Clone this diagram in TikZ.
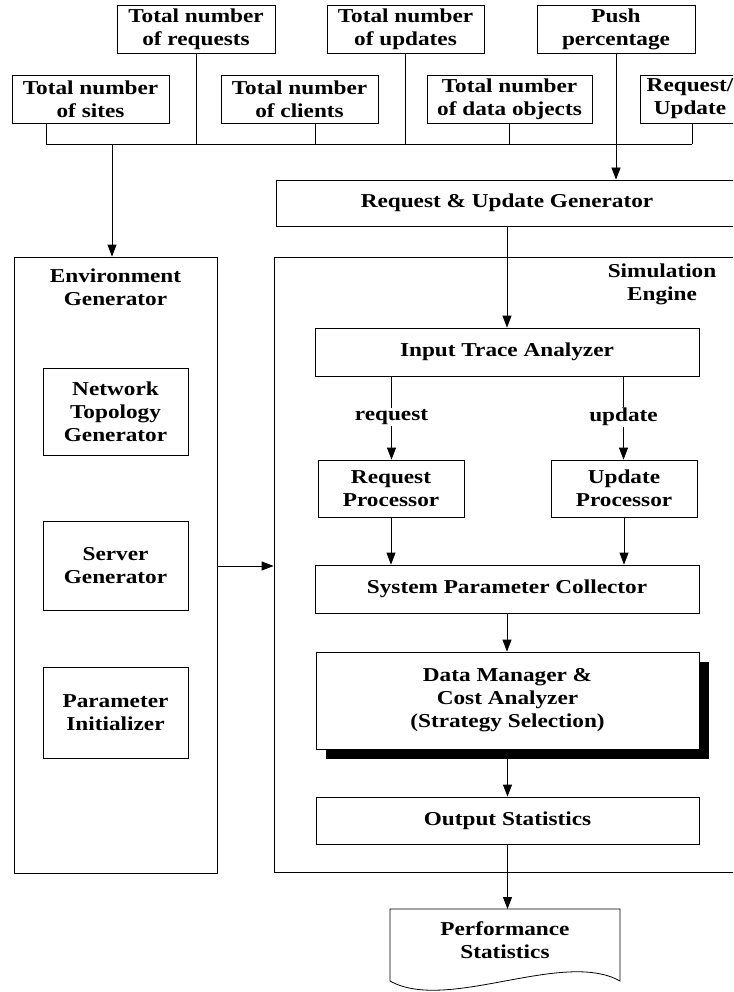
\documentclass[tikz,border=0pt]{standalone}
\usepackage{fontspec}
\setmainfont{Liberation Serif}[FakeStretch=1.18]
\usetikzlibrary{arrows.meta,shadows}
\begin{document}
\begin{tikzpicture}[x=1pt,y=-1pt,
  every node/.style={font=\fontsize{19.7}{23}\selectfont\bfseries, align=center, inner sep=0pt},
  ln/.style={line width=0.8pt, draw=black},
  box/.style={ln, draw, minimum height=48pt},
  container/.style={ln, draw},
  arr/.style={ln, -{Triangle[length=12pt,width=9pt]}},
  lbl/.style={inner sep=1pt}]
\clip (0,0) rectangle (733,992);
% ---------- input parameter boxes ----------
\node[box, minimum width=158pt] (requests) at (196,29) {Total number\\of requests};
\node[box, minimum width=157pt] (updates) at (405.5,29) {Total number\\of updates};
\node[box, minimum width=158pt] (push) at (616,29) {Push\\percentage};
\node[box, minimum width=157pt] (sites) at (90.5,99) {Total number\\of sites};
\node[box, minimum width=157pt] (clients) at (299.5,99) {Total number\\of clients};
\node[box, minimum width=165pt] (dataobj) at (509.5,99) {Total number\\of data objects};
\node[box, minimum width=100pt] (requp) at (690,99) {Request/\\Update};
% ---------- generators ----------
\node[box, minimum width=462pt, minimum height=46pt] (rug) at (507,203) {Request \& Update Generator};
\node[container, minimum width=203pt, minimum height=616pt] (env) at (115.5,565) {};
\node (envlbl) at (115.5,287.5) {Environment\\Generator};
\node[box, minimum width=145pt, minimum height=87pt] (ntg) at (115.5,411.5) {Network\\Topology\\Generator};
\node[box, minimum width=145pt, minimum height=89pt] (srv) at (115.5,565.5) {Server\\Generator};
\node[box, minimum width=145pt, minimum height=91pt] (pin) at (115.5,712.5) {Parameter\\Initializer};
% ---------- simulation engine ----------
\node[container, minimum width=471pt, minimum height=615pt] (sim) at (509.5,564.5) {};
\node (simlbl) at (662,284) {Simulation\\Engine};
\node[box, minimum width=384pt] (ita) at (507,352) {Input Trace Analyzer};
\node[lbl] (lreq) at (391.5,417) {request};
\node[lbl] (lupd) at (623.5,417) {update};
\node[box, minimum width=146pt, minimum height=57pt] (rp) at (391,488.5) {Request\\Processor};
\node[box, minimum width=146pt, minimum height=57pt] (up) at (624,488.5) {Update\\Processor};
\node[box, minimum width=384pt] (spc) at (507,589) {System Parameter Collector};
\node[box, fill=white, minimum width=383pt, minimum height=97pt,
      drop shadow={shadow xshift=10pt, shadow yshift=-10pt, fill=black, opacity=1}]
      (dm) at (507.5,700.5) {Data Manager \&\\Cost Analyzer\\(Strategy Selection)};
\node[box, minimum width=383pt, minimum height=47pt] (os) at (507.5,820.5) {Output Statistics};
% ---------- performance statistics document ----------
\draw[ln] (390,909) -- (620,909) -- (620,981)
  .. controls (563,949) and (447,1013) .. (390,981) -- cycle;
\node (perf) at (505,940) {Performance\\Statistics};
\coordinate (perftop) at (507.5,909);
% ---------- connectors ----------
\coordinate (busL) at (46,144);
\coordinate (busR) at (692,144);
\coordinate (cdrop) at (315,144);
\coordinate (envin) at (112,144);
\coordinate (ey) at (0,566);
\draw[ln] (busL) -- (busR);
\draw[ln] (busL |- sites.south) -- (busL);
\draw[ln] (requests.south) -- (requests.south |- busL);
\draw[ln] (cdrop |- clients.south) -- (cdrop);
\draw[ln] (updates.south) -- (updates.south |- busL);
\draw[ln] (dataobj.south) -- (dataobj.south |- busL);
\draw[ln] (busR |- requp.south) -- (busR);
\draw[arr] (envin) -- (envin |- env.north);
\draw[arr] (push.south) -- (push.south |- rug.north);
\draw[arr] (rug.south -| ita.north) -- (ita.north);
\draw[arr] (env.east |- ey) -- (sim.west |- ey);
\draw[ln] (ita.south -| lreq.north) -- (lreq.north);
\draw[arr] (lreq.south) -- (lreq.south |- rp.north);
\draw[ln] (ita.south -| lupd.north) -- (lupd.north);
\draw[arr] (lupd.south) -- (lupd.south |- up.north);
\draw[arr] (rp.south) -- (rp.south |- spc.north);
\draw[arr] (up.south) -- (up.south |- spc.north);
\draw[arr] (spc.south) -- (spc.south |- dm.north);
\draw[arr] (dm.south) ++(0,10) -- (os.north);
\draw[arr] (os.south) -- (perftop);
\end{tikzpicture}
\end{document}
